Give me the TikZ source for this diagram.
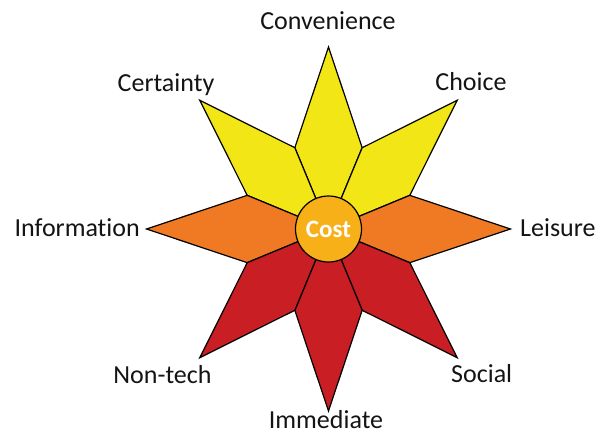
\documentclass[tikz,border=0pt]{standalone}
\usepackage{fontspec}
\setmainfont{Carlito}[Ligatures=NoCommon]
\definecolor{pyellow}{RGB}{242,230,22}
\definecolor{porange}{RGB}{240,122,36}
\definecolor{pred}{RGB}{200,30,36}
\definecolor{pcost}{RGB}{247,176,24}
\definecolor{ltext}{RGB}{20,20,20}
\begin{document}
\begin{tikzpicture}[x=1pt,y=-1pt,
  petal/.style={draw=black,line width=1.2pt,line join=miter},
  lbl/.style={font=\fontsize{26}{26}\selectfont,inner sep=0pt,text=ltext},
  hub/.style={circle,draw=black,line width=1.2pt,fill=pcost,minimum size=66pt,inner sep=0pt,
    text=white,font=\fontsize{25}{25}\selectfont\bfseries}]
\useasboundingbox (0,0) rectangle (598,434);
\coordinate (c) at (328.5,229);
\begin{scope}[shift={(c)}]
\foreach \a/\col in {-90/pyellow,-135/pyellow,-45/pyellow,0/porange,180/porange,45/pred,90/pred,135/pred}
  \filldraw[petal,fill=\col] (0,0) -- (\a-22.5:88) -- (\a:182) -- (\a+22.5:88) -- cycle;
\end{scope}
\node[hub] (cost) at (c) {Cost};
\node[lbl,anchor=base] (conv) at (328,29) {Convenience};
\node[lbl,anchor=base] (cert) at (166,91) {Certainty};
\node[lbl,anchor=base] (choi) at (471,90) {Choice};
\node[lbl,anchor=base east] (info) at (140,236) {Information};
\node[lbl,anchor=base west] (leis) at (520,236) {Leisure};
\node[lbl,anchor=base] (nont) at (162.5,383) {Non-tech};
\node[lbl,anchor=base] (soci) at (481.7,382.7) {Social};
\node[lbl,anchor=base] (imme) at (326,428.5) {Immediate};
\end{tikzpicture}
\end{document}
